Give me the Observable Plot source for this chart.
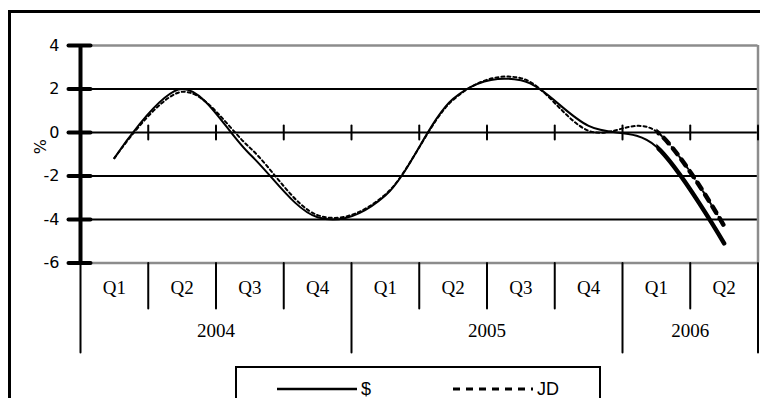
<!DOCTYPE html>
<html>
<head>
<meta charset="utf-8">
<script src="https://cdn.jsdelivr.net/npm/d3@7"></script>
<script src="https://cdn.jsdelivr.net/npm/@observablehq/plot@0.6"></script>
<style>
  body { margin: 0; background: #fff; }
  #wrap { position: relative; width: 760px; height: 398px; overflow: hidden; background: #fff; }
  #outer { position: absolute; left: 8px; top: 10px; width: 800px; height: 500px; border: 3px solid #000; box-sizing: border-box; }
  #chart { position: absolute; left: 0; top: 0; }
  #legend { position: absolute; left: 235px; top: 366px; width: 366px; height: 60px; border: 2px solid #000; box-sizing: border-box; background: #fff;
            font-family: "Liberation Sans", Arial, sans-serif; font-size: 18px; color: #000; }
  .item { position: absolute; top: 12px; display: flex; align-items: center; }
  .item svg { display: block; }
  .item span { margin-left: 4px; line-height: 18px; }
</style>
</head>
<body>
<div id="wrap">
  <div id="outer"></div>
  <div id="chart"></div>
  <div id="legend"></div>
</div>
<script>
// ---- data ----
const quarters = ["Q1", "Q2", "Q3", "Q4", "Q1", "Q2", "Q3", "Q4", "Q1", "Q2"];
const years = ["2004", "2005", "2006"];
const quartersPerYear = [4, 4, 2];
const usd = [-1.18, 2.0, -1.0, -3.9, -2.9, 1.55, 2.4, 0.3, -0.65, -5.1];
const jd  = [-1.18, 1.87, -0.7, -3.8, -2.85, 1.5, 2.5, 0.08, 0.05, -4.3];
const yTicks = [-6, -4, -2, 0, 2, 4];
const seriesNames = ["$", "JD"];

// ---- derived tables ----
const rows = quarters.map((q, i) => ({i: i + 0.5, q, usd: usd[i], jd: jd[i]}));
const boundaries = d3.range(0, quarters.length + 1);
const yearStarts = d3.cumsum([0, ...quartersPerYear]); // 0,4,8,10
const yearRows = years.map((y, k) => ({year: y, x: (yearStarts[k] + yearStarts[k + 1]) / 2}));
const quarterDividers = boundaries.filter(b => !yearStarts.includes(b));
const yearDividers = boundaries.filter(b => yearStarts.includes(b));
const zeroTicks = boundaries.filter(b => b > 0);

const lineShape = {draw(ctx, l) { ctx.moveTo(0, 0); ctx.lineTo(0, -l); }};
const gray = "#8c8c8c";
const serif = "'Liberation Serif', 'Times New Roman', serif";
const sans = "'DejaVu Sans', Verdana, sans-serif";

const chart = Plot.plot({
  width: 760,
  height: 360,
  marginLeft: 80,
  marginRight: 2.5,
  marginTop: 45,
  marginBottom: 97.5,
  style: {background: "transparent", fontFamily: sans, fontSize: "16px", color: "#000"},
  x: {domain: [0, quarters.length], axis: null},
  y: {domain: [-6, 4], axis: null},
  marks: [
    Plot.ruleY([2, 0, -2, -4], {stroke: "#000", strokeWidth: 2}),
    Plot.ruleY([4, -6], {stroke: gray, strokeWidth: 2.5}),
    Plot.ruleX([quarters.length], {stroke: gray, strokeWidth: 2.5}),
    // tick marks on the zero line
    Plot.vector(zeroTicks, {x: d => d, y: 0, length: 14, anchor: "middle", shape: lineShape, stroke: "#000", strokeWidth: 2}),
    // category dividers below the plot
    Plot.vector(quarterDividers, {x: d => d, y: -6, length: 45.5, rotate: 180, anchor: "start", shape: lineShape, stroke: "#000", strokeWidth: 2}),
    Plot.vector(yearDividers, {x: d => d, y: -6, length: 89.5, rotate: 180, anchor: "start", shape: lineShape, stroke: "#000", strokeWidth: 2}),
    // y axis line + crossing ticks
    Plot.ruleX([0], {stroke: "#000", strokeWidth: 4}),
    Plot.vector(yTicks, {x: 0, y: d => d, length: 22, rotate: 90, anchor: "middle", shape: lineShape, stroke: "#000", strokeWidth: 4, dx: -1}),
    Plot.axisY({ticks: yTicks, tickSize: 0, tickPadding: 21, tickFormat: d => String(d), fontSize: 16, fontFamily: sans, label: null, fill: "#000"}),
    Plot.text(["%"], {frameAnchor: "left", dx: -40, rotate: -90, fontSize: 16, fontFamily: sans, fill: "#000"}),
    // category labels
    Plot.text(rows, {x: "i", frameAnchor: "bottom", dy: 31, text: "q", fontSize: 19, fontFamily: serif, fill: "#000"}),
    Plot.text(yearRows, {x: "x", frameAnchor: "bottom", dy: 74, text: "year", fontSize: 19, fontFamily: serif, fill: "#000"}),
    // series
    Plot.line(rows, {x: "i", y: "jd", curve: "cardinal", stroke: "#000", strokeWidth: 2, strokeDasharray: "3,3"}),
    Plot.line(rows, {x: "i", y: "usd", curve: "cardinal", stroke: "#000", strokeWidth: 2}),
    Plot.line(rows, {x: "i", y: "jd", curve: "cardinal", stroke: "#000", strokeWidth: 4.5, strokeDasharray: "7,7", className: "thick"}),
    Plot.line(rows, {x: "i", y: "usd", curve: "cardinal", stroke: "#000", strokeWidth: 4.5, className: "thick"})
  ]
});

// thicker rendering of the last segment (Q1 2006 -> Q2 2006)
const xScale = chart.scale("x");
const xStart = xScale.apply(rows[quarters.length - 2].i);
const svg = d3.select(chart);
svg.append("defs").append("clipPath").attr("id", "clipLast")
  .append("rect").attr("x", xStart).attr("y", 0).attr("width", 760 - xStart).attr("height", 360);
svg.selectAll(".thick").attr("clip-path", "url(#clipLast)");

document.getElementById("chart").appendChild(chart);

// legend
const legend = document.getElementById("legend");
const styles = [{left: 40, dash: null, text: seriesNames[0]}, {left: 216, dash: "7,6", text: seriesNames[1]}];
for (const s of styles) {
  const item = document.createElement("div");
  item.className = "item";
  item.style.left = s.left + "px";
  item.innerHTML = `<svg width="80" height="18"><line x1="0" x2="80" y1="9" y2="9" stroke="#000" stroke-width="${s.dash ? 3 : 2.5}" ${s.dash ? `stroke-dasharray="${s.dash}"` : ""}/></svg><span>${s.text}</span>`;
  legend.appendChild(item);
}
</script>
</body>
</html>
